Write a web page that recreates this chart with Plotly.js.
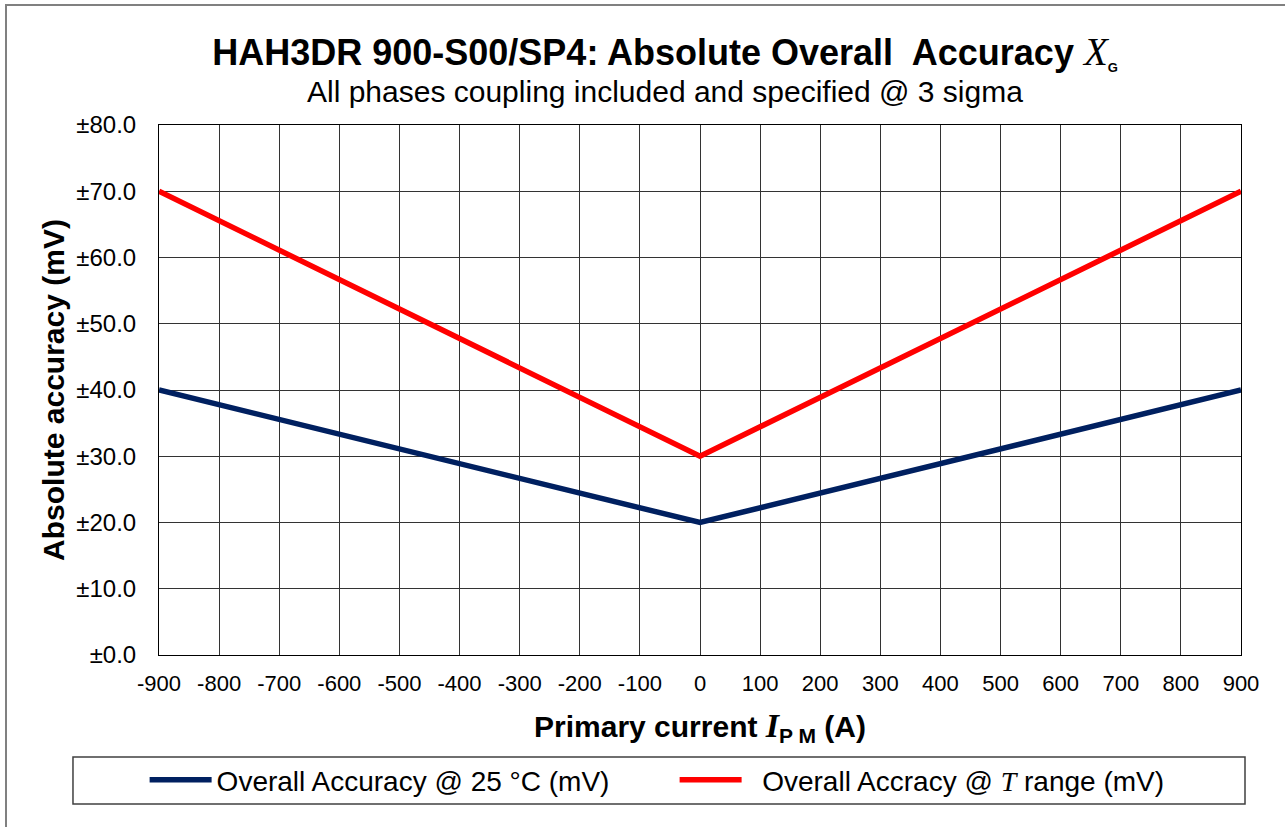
<!DOCTYPE html>
<html>
<head>
<meta charset="utf-8">
<script src="https://cdn.plot.ly/plotly-3.0.1.min.js"></script>
<style>html,body{margin:0;padding:0;background:#fff;}#chart{width:1285px;height:827px;}</style>
</head>
<body>
<div id="chart"></div>
<script>
// Data
const primaryCurrent = [-900, 0, 900];              // A
const accuracy25C   = [40, 20, 40];                 // mV (±)
const accuracyTRange = [70, 30, 70];                // mV (±)

const xTickVals = [-900,-800,-700,-600,-500,-400,-300,-200,-100,0,100,200,300,400,500,600,700,800,900];
const yTickVals = [0,10,20,30,40,50,60,70,80];
const yTickText = ['±0.0','±10.0','±20.0','±30.0','±40.0','±50.0','±60.0','±70.0','±80.0'];

const seriesNames = [
  'Overall Accuracy @ 25 °C (mV)',
  '&nbsp;&nbsp;Overall Accracy @ <span style="font-family:Liberation Serif;font-style:italic">T</span> range (mV)'
];

const FONT = 'Liberation Sans, Arial, sans-serif';

const traces = [
  {x: primaryCurrent, y: accuracy25C, name: seriesNames[0], mode: 'lines',
   line: {color: '#002060', width: 5.5}},
  {x: primaryCurrent, y: accuracyTRange, name: seriesNames[1], mode: 'lines',
   line: {color: '#ff0000', width: 5.5}}
];

const layout = {
  width: 1285, height: 827,
  margin: {l: 159, r: 44, t: 125, b: 172, autoexpand: false},
  paper_bgcolor: '#ffffff', plot_bgcolor: '#ffffff',
  font: {family: FONT, color: '#000000', size: 22},
  title: {
    text: '<b>HAH3DR 900-S00/SP4: Absolute Overall&nbsp; Accuracy </b><span style="font-family:Liberation Serif;font-style:italic;font-size:39px">X</span><sub><b><span style="font-size:13px">G</span></b></sub>',
    font: {family: FONT, size: 36, color: '#000'},
    xref: 'paper', x: 0.4677, xanchor: 'center',
    yref: 'container', y: 0.937, yanchor: 'middle'
  },
  xaxis: {
    range: [-900, 900], tickvals: xTickVals, ticktext: xTickVals.map(String),
    showgrid: true, gridcolor: '#333333', gridwidth: 1,
    showline: true, linecolor: '#000', linewidth: 1, mirror: true,
    zeroline: false, ticks: '', ticklabelstandoff: 9, automargin: true,
    tickfont: {family: FONT, size: 22},
    title: {
      text: '<b>Primary current <span style="font-family:Liberation Serif;font-style:italic;font-size:34px">I</span><sub>P M</sub> (A)</b>',
      font: {family: FONT, size: 30}, standoff: 20
    }
  },
  yaxis: {
    range: [0, 80], tickvals: yTickVals, ticktext: yTickText,
    showgrid: true, gridcolor: '#333333', gridwidth: 1,
    showline: true, linecolor: '#000', linewidth: 1, mirror: true,
    zeroline: false, ticks: '', ticklabelstandoff: 17, automargin: true,
    tickfont: {family: FONT, size: 24},
    title: {text: '<b>Absolute accuracy (mV)</b>', font: {family: FONT, size: 30}, standoff: 2}
  },
  showlegend: true,
  legend: {
    orientation: 'h', xref: 'paper', x: -0.0133, xanchor: 'left',
    yref: 'paper', y: -0.236, yanchor: 'middle',
    font: {family: FONT, size: 28}, bgcolor: 'rgba(0,0,0,0)', borderwidth: 0,
    itemwidth: 62, entrywidth: 453, entrywidthmode: 'pixels'
  },
  annotations: [{
    text: 'All phases coupling included and specified @ 3 sigma',
    xref: 'paper', yref: 'paper', x: 0.4677, y: 1.0623,
    xanchor: 'center', yanchor: 'middle', showarrow: false,
    font: {family: FONT, size: 30, color: '#000'}
  }],
  shapes: [
    {type: 'rect', xref: 'paper', yref: 'paper', x0: -0.0795, x1: 1.0037, y0: -0.1925, y1: -0.281,
     line: {color: '#404040', width: 1.5}, fillcolor: 'rgba(0,0,0,0)', layer: 'below'},
    {type: 'rect', xref: 'paper', yref: 'paper', x0: -0.1414, x1: 1.1, y0: -0.4, y1: 1.2264,
     line: {color: '#808080', width: 2}, fillcolor: 'rgba(0,0,0,0)', layer: 'below'}
  ]
};

Plotly.newPlot('chart', traces, layout, {displayModeBar: false, staticPlot: true});
</script>
</body>
</html>
